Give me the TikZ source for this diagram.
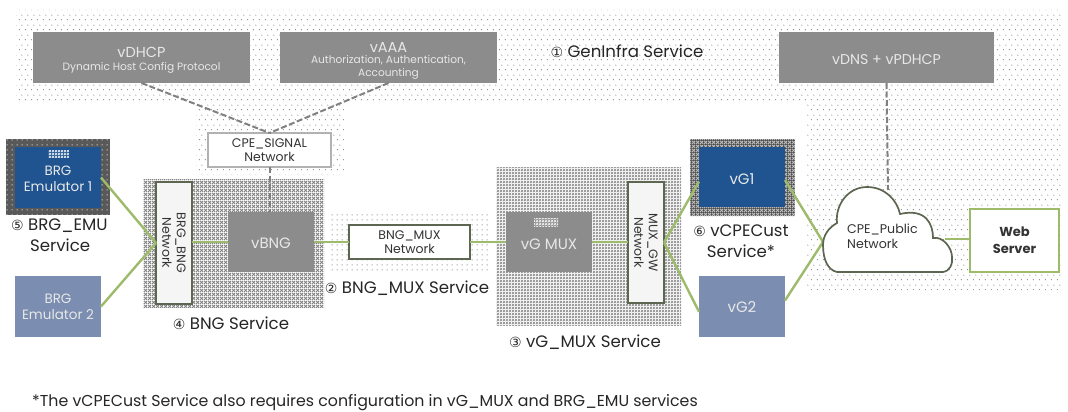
\documentclass[tikz,border=0pt]{standalone}
\usepackage{fontspec}
\setmainfont{Poppins}
\newfontfamily\symf{DejaVu Sans}
\usetikzlibrary{patterns}
\definecolor{boxgray}{HTML}{8C8C8C}
\definecolor{txtlight}{HTML}{E8E8E8}
\definecolor{blued}{HTML}{1F5490}
\definecolor{bluel}{HTML}{7B8DB0}
\definecolor{greenl}{HTML}{9DBB6B}
\definecolor{olive}{HTML}{5C6650}
\definecolor{txtdark}{HTML}{333333}
\pgfdeclarepatternformonly{dotsparse}{\pgfqpoint{0pt}{0pt}}{\pgfqpoint{6pt}{10pt}}{\pgfqpoint{6pt}{10pt}}{
  \pgfpathcircle{\pgfqpoint{1.5pt}{2.5pt}}{0.6pt}
  \pgfpathcircle{\pgfqpoint{4.5pt}{7.5pt}}{0.6pt}
  \pgfusepath{fill}}
\pgfdeclarepatternformonly{dotdense}{\pgfqpoint{0pt}{0pt}}{\pgfqpoint{5pt}{5pt}}{\pgfqpoint{5pt}{5pt}}{
  \pgfpathcircle{\pgfqpoint{2.5pt}{2.5pt}}{0.65pt}
  \pgfusepath{fill}}
\pgfdeclarepatternformonly{meshbig}{\pgfqpoint{0pt}{0pt}}{\pgfqpoint{4pt}{4pt}}{\pgfqpoint{4pt}{4pt}}{
  \pgfsetlinewidth{1pt}
  \pgfpathmoveto{\pgfqpoint{0pt}{0pt}}\pgfpathlineto{\pgfqpoint{4pt}{4pt}}
  \pgfpathmoveto{\pgfqpoint{0pt}{4pt}}\pgfpathlineto{\pgfqpoint{4pt}{0pt}}
  \pgfusepath{stroke}}
\pgfdeclarepatternformonly{meshfine}{\pgfqpoint{0pt}{0pt}}{\pgfqpoint{2.6pt}{2.6pt}}{\pgfqpoint{2.6pt}{2.6pt}}{
  \pgfsetlinewidth{0.55pt}
  \pgfpathmoveto{\pgfqpoint{0pt}{0pt}}\pgfpathlineto{\pgfqpoint{2.6pt}{2.6pt}}
  \pgfpathmoveto{\pgfqpoint{0pt}{2.6pt}}\pgfpathlineto{\pgfqpoint{2.6pt}{0pt}}
  \pgfusepath{stroke}}
\newcommand{\pxbox}[7][]{%
  \node[#2,#1,minimum width={#5-#3},minimum height={#6-#4}] (#7) at ({(#3+#5)/2},{(#4+#6)/2}) {};}
\newcommand{\circnum}[1]{{\symf\fontsize{14}{14}\selectfont #1}}
\tikzset{
  x=1pt,y=-1pt,
  plain/.style={inner sep=0pt,outer sep=0pt,rectangle},
  servgray/.style={plain,fill=boxgray},
  servblue/.style={plain,fill=blued},
  servlight/.style={plain,fill=bluel},
  netbox/.style={plain,draw=olive,line width=1.6pt,fill=white},
  regbng/.style={plain,pattern=meshbig,pattern color=black!50},
  regmux/.style={plain,pattern=meshfine,pattern color=black!50},
  regdense/.style={plain,pattern=dotdense,pattern color=black!55},
  frameemu/.style={plain,fill=black!65},
  webbox/.style={plain,draw=greenl,line width=2.6pt,fill=white},
  sigbox/.style={plain,draw=black!30,line width=1.4pt,fill=white},
  link/.style={draw=greenl,line width=2.4pt},
  signal/.style={draw=black!50,line width=2pt,dash pattern=on 6pt off 2.5pt},
  lightlab/.style={text=txtlight,align=center,inner sep=0pt,font=\fontsize{13.5}{16}\selectfont},
  biglab/.style={lightlab,font=\fontsize{15}{17}\selectfont},
  sublab/.style={lightlab,font=\fontsize{10.6}{13}\selectfont},
  darklab/.style={text=txtdark,align=center,inner sep=0pt,font=\fontsize{12.5}{14.5}\selectfont},
  service/.style={text=black!85,align=center,inner sep=0pt,font=\fontsize{16.6}{21}\selectfont},
}
\begin{document}
\begin{tikzpicture}
\useasboundingbox (0,0) rectangle (1068,412);
% GenInfra region
\fill[pattern=dotsparse,pattern color=black!55] (16,10) -- (1062,10) -- (1062,290) -- (807,290) -- (807,104) -- (345,104) -- (345,175) -- (196,175) -- (196,104) -- (16,104) -- cycle;
% service regions
\pxbox{regbng}{143}{179}{324}{307}{bngreg}
\pxbox{regdense}{330}{211}{488}{272}{muxreg}
\pxbox{regmux}{496}{167}{681}{325}{vgreg}
\pxbox{frameemu}{6}{139}{110}{215}{emuframe}
\fill[pattern=dotdense,pattern color=white] (emuframe.south west) rectangle (emuframe.north east);
\pxbox{plain,fill=black!70}{690}{139}{795}{216}{vgframe}
\fill[pattern=meshbig,pattern color=white!75!black] (vgframe.south west) rectangle (vgframe.north east);
% boxes
\pxbox{servgray}{33}{32}{250}{83}{vdhcp}
\pxbox{servgray}{280}{32}{497}{83}{vaaa}
\pxbox{servgray}{779}{32}{994}{83}{vdns}
\pxbox{sigbox}{208}{133}{331}{167}{sig}
\pxbox{servblue}{15}{147}{101}{208}{emua}
\pxbox{servlight}{15}{276}{101}{337}{emub}
\pxbox{netbox,fill=black!4}{156}{182}{192}{304}{brgnet}
\pxbox{servgray}{228}{212}{314}{272}{vbng}
\pxbox{netbox}{349}{225}{470}{259}{bmnet}
\pxbox{servgray}{506}{212}{592}{272}{vgmux}
\pxbox{netbox,fill=black!4}{628}{182}{664}{303}{gwnet}
\pxbox{servblue}{699}{147}{785}{207}{vga}
\pxbox{servlight}{699}{276}{785}{337}{vgb}
\pxbox{webbox}{970}{209}{1059}{272}{web}
% cloud anchors
\coordinate (cloudw) at (823,242);
\coordinate (cloude) at (945,239);
\coordinate (cloudt) at (888,190);
% connectors
\draw[signal] (vdhcp.south) -- (sig.north);
\draw[signal] (vaaa.south) -- (sig.north);
\draw[signal] (vdns.south) -- (cloudt);
\draw[signal] (sig.south) -- (sig.south |- vbng.north);
\draw[link] (emua.east) -- (brgnet.west);
\draw[link] (emub.east) -- (brgnet.west);
\draw[link] (brgnet.east |- vbng.west) -- (vbng.west);
\draw[link] (vbng.east) -- (bmnet.west);
\draw[link] (bmnet.east) -- (vgmux.west);
\draw[link] (vgmux.east) -- (gwnet.west |- vgmux.east);
\draw[link] (gwnet.east) -- (vga.186);
\draw[link] (gwnet.east) -- (vgb.187);
\draw[link] (vga.-4) -- (cloudw);
\draw[link] (vgb.8) -- (cloudw);
\draw[link] (cloude) -- (web.west |- cloude);
% cloud
\draw[draw=olive,line width=1.7pt,fill=white,rounded corners=0pt]
  (837,272) -- (943,272)
  .. controls (950,271) and (953,264) .. (952,257)
  .. controls (952,248) and (943,236) .. (933,238)
  .. controls (933,224) and (926,208) .. (900,214)
  .. controls (897,200) and (885,187) .. (867,187)
  .. controls (848,187) and (835,205) .. (837,223)
  .. controls (828,228) and (823,236) .. (823,245)
  .. controls (823,260) and (828,270) .. (837,272) -- cycle;
% small texture patches
\fill[pattern=meshfine,pattern color=white] (48,150) rectangle (69,157);
\fill[pattern=meshfine,pattern color=white] (534,218) rectangle (558,226);
% texts
\node[lightlab,font=\fontsize{14.5}{17}\selectfont] (t1) at (141.5,52) {vDHCP};
\node[sublab] (t1b) at (141.5,67.5) {Dynamic Host Config Protocol};
\node[lightlab,font=\fontsize{14.5}{17}\selectfont] (t2) at (388.5,47) {vAAA};
\node[sublab] (t2b) at (388.5,67) {Authorization, Authentication,\\Accounting};
\node[lightlab,font=\fontsize{14.2}{17}\selectfont] (t3) at (886.5,60) {vDNS + vPDHCP};
\node[darklab] (t4) at (sig) {CPE\_SIGNAL\\Network};
\node[lightlab] (t5) at (58,179) {BRG\\Emulator 1};
\node[lightlab] (t6) at (emub) {BRG\\Emulator 2};
\node[darklab,rotate=-90] (t7) at (brgnet) {BRG\_BNG\\Network};
\node[biglab] (t8) at (271,243) {vBNG};
\node[darklab] (t9) at (bmnet) {BNG\_MUX\\Network};
\node[biglab] (t10) at (549,244) {vG MUX};
\node[darklab,rotate=-90] (t11) at (gwnet) {MUX\_GW\\Network};
\node[biglab] (t12) at (742,179) {vG1};
\node[biglab] (t13) at (742,307) {vG2};
\node[darklab,anchor=west,align=left,font=\fontsize{12.6}{15}\selectfont] (t14) at (847,236.5) {CPE\_Public\\Network};
\node[text=black!80,align=center,inner sep=0pt,font=\bfseries\fontsize{13}{17}\selectfont] (t15) at (web) {Web\\Server};
\node[service] (s1) at (627,51) {\circnum{①} GenInfra Service};
\node[service,anchor=north west,align=left] (s5) at (11,219) {\circnum{⑤} BRG\_EMU\\\hspace*{19pt}Service};
\node[service] (s4) at (231,323) {\circnum{④} BNG Service};
\node[service] (s2) at (407,288) {\circnum{②} BNG\_MUX Service};
\node[service] (s3) at (585,342) {\circnum{③} vG\_MUX Service};
\node[service] (s6) at (741,241) {\circnum{⑥} vCPECust\\Service*};
\node[text=black!85,anchor=west,inner sep=0pt,font=\fontsize{15.8}{18}\selectfont] (foot) at (32,403) {*The vCPECust Service also requires configuration in vG\_MUX and BRG\_EMU services};
\end{tikzpicture}
\end{document}
